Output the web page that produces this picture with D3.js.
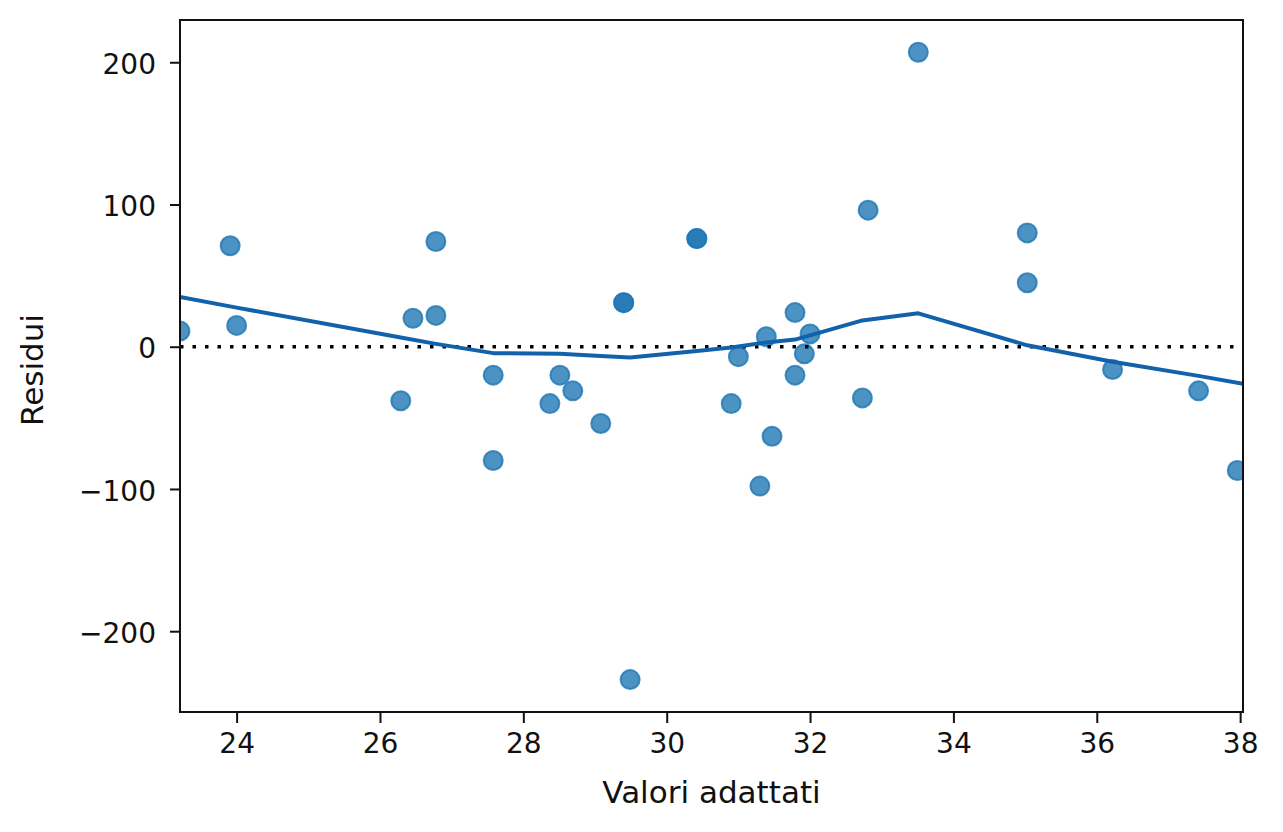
<!DOCTYPE html>
<html>
<head>
<meta charset="utf-8">
<script src="https://cdn.jsdelivr.net/npm/d3@7"></script>
<style>
  body { margin: 0; background: #fff; }
  text { font-family: "DejaVu Sans", sans-serif; fill: #111; }
</style>
</head>
<body>
<div id="chart"></div>
<script>
// fitted values / residuals
let fitted = [23.21, 23.91, 24.0, 26.29, 26.46, 26.78, 26.78, 27.58, 27.58, 28.37, 28.51,
    28.69, 29.08, 29.4, 29.4, 29.49, 30.42, 30.42, 30.9, 31.0, 31.3, 31.39, 31.47, 31.79,
    31.79, 31.92, 32.0, 32.73, 32.81, 33.51, 35.03, 35.03, 36.22, 37.42, 37.96];
let residui = [11, 71, 15, -38, 20, 74, 22, -20, -80, -40, -20,
    -31, -54, 31, 31, -234, 76, 76, -40, -7, -98, 7, -63, 24,
    -20, -5, 9, -36, 96, 207, 80, 45, -16, -31, -87];

// lowess curve
let lowessX = [23.21, 24.0, 26.29, 26.78, 27.58, 28.51, 29.08, 29.49, 30.42, 30.9,
    31.39, 31.79, 32.0, 32.73, 33.51, 35.03, 36.22, 37.42, 38.04];
let lowessY = [35, 27.5, 6.5, 2, -4.5, -5, -6.5, -7.5, -3, -0.5,
    3, 5, 8, 18.5, 23.5, 1, -10.5, -20.5, -26];

let xTicks = [24, 26, 28, 30, 32, 34, 36, 38];
let yTicks = [-200, -100, 0, 100, 200];

let margin = { top: 20, right: 40, bottom: 120, left: 180 },
    width = 1283 - margin.left - margin.right,
    height = 832 - margin.top - margin.bottom;

let x = d3.scaleLinear().domain([23.21, 38.04]).range([0, width]);
let y = d3.scaleLinear().domain([-256.8, 229.7]).range([height, 0]);

let svg = d3.select("#chart").append("svg")
    .attr("width", 1283)
    .attr("height", 832)
    .append("g")
    .attr("transform", "translate(" + margin.left + "," + margin.top + ")");

svg.append("clipPath").attr("id", "clip")
    .append("rect").attr("width", width).attr("height", height);

let plot = svg.append("g").attr("clip-path", "url(#clip)");

// points
plot.selectAll(".dot")
    .data(fitted)
    .enter()
    .append("circle")
    .attr("class", "dot")
    .attr("cx", function(d) { return x(d); })
    .attr("cy", function(d, i) { return y(residui[i]); })
    .attr("r", 9.5)
    .attr("fill", "#1f77b4")
    .attr("fill-opacity", 0.8)
    .attr("stroke", "#1f77b4")
    .attr("stroke-opacity", 0.8)
    .attr("stroke-width", 2);

// zero reference line
plot.append("line")
    .attr("x1", 0).attr("x2", width)
    .attr("y1", y(0)).attr("y2", y(0))
    .attr("stroke", "#000")
    .attr("stroke-width", 3.5)
    .attr("stroke-dasharray", "3.5 9");

// lowess line
let line = d3.line()
    .x(function(d) { return x(d); })
    .y(function(d, i) { return y(lowessY[i]); });

plot.append("path")
    .datum(lowessX)
    .attr("d", line)
    .attr("fill", "none")
    .attr("stroke", "#1262ab")
    .attr("stroke-width", 4)
    .attr("stroke-linejoin", "round");

// axes
let xAxis = svg.append("g")
    .attr("transform", "translate(0," + height + ")")
    .call(d3.axisBottom(x).tickValues(xTicks).tickSize(11).tickPadding(10).tickFormat(d3.format("d")));
let yAxis = svg.append("g")
    .call(d3.axisLeft(y).tickValues(yTicks).tickSize(10).tickPadding(14)
        .tickFormat(function(d) { return d < 0 ? "\u2212" + Math.abs(d) : d; }));

[xAxis, yAxis].forEach(function(a) {
    a.select(".domain").remove();
    a.selectAll(".tick line").attr("stroke", "#111").attr("stroke-width", 2);
    a.selectAll(".tick text").style("font-size", "28px").attr("fill", "#111");
});
yAxis.selectAll(".tick text").attr("dy", "0.4em");

// frame
svg.append("rect")
    .attr("width", width).attr("height", height)
    .attr("fill", "none")
    .attr("stroke", "#111")
    .attr("stroke-width", 2);

// labels
svg.append("text")
    .attr("x", width / 2)
    .attr("y", height + 91)
    .style("text-anchor", "middle")
    .style("font-size", "31px")
    .text("Valori adattati");

svg.append("text")
    .attr("transform", "rotate(-90)")
    .attr("x", -(height / 2) - 4)
    .attr("y", 43 - margin.left)
    .style("text-anchor", "middle")
    .style("font-size", "31px")
    .text("Residui");
</script>
</body>
</html>
